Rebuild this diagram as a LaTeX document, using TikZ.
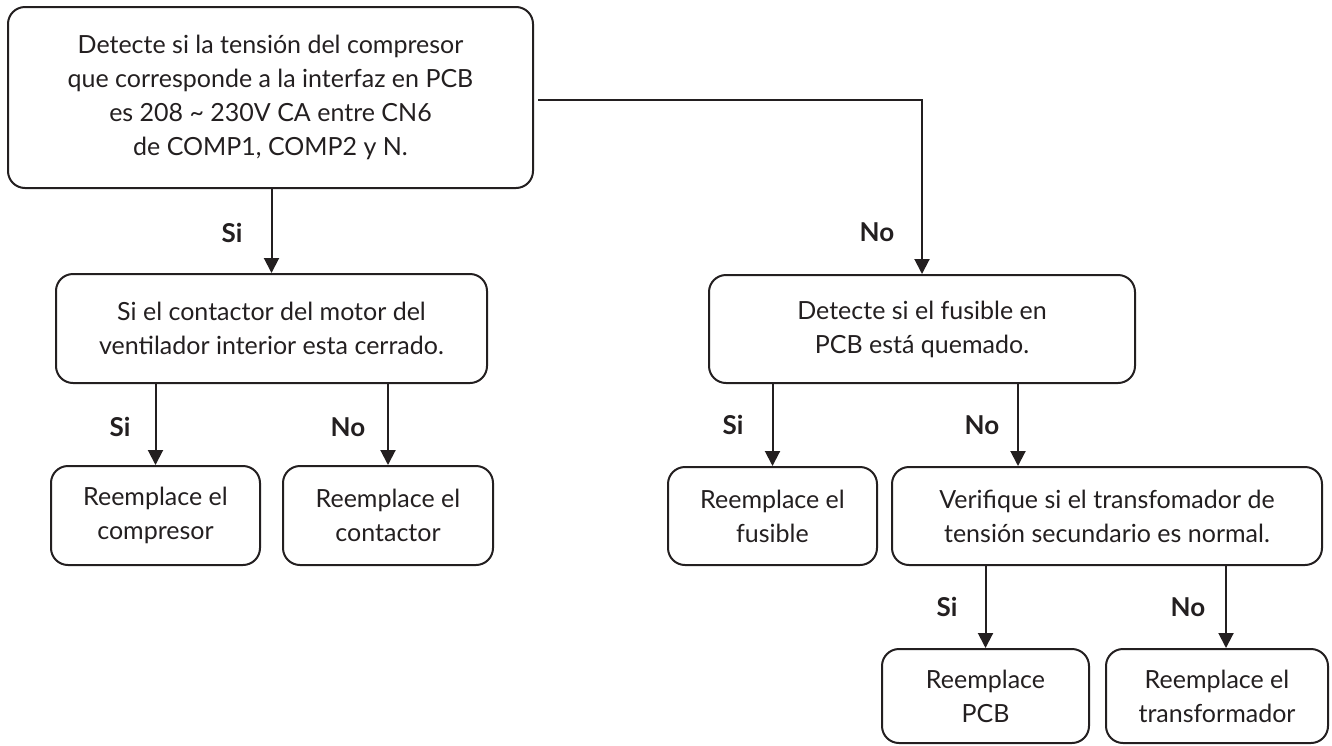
\documentclass[tikz,border=0pt]{standalone}
\usepackage{fontspec}
\setmainfont{Lato}
\usetikzlibrary{arrows.meta}
\definecolor{ink}{HTML}{231F20}
\tikzset{
  box/.style={draw=ink, line width=2pt, rounded corners=17pt, align=center, inner sep=0pt, text=ink, font=\fontsize{25}{34}\selectfont},
  arr/.style={draw=ink, line width=2pt, -{Triangle[width=15pt,length=15pt]}},
  lbl/.style={text=ink, font=\fontsize{26}{30}\selectfont\bfseries}
}
\begin{document}
\begin{tikzpicture}[x=1pt,y=-1pt]
\useasboundingbox (0,0) rectangle (1332,745);
\node[box, minimum width=525pt, minimum height=181pt] (top) at (270.5,97.5)
  {Detecte si la tensión del compresor\\que corresponde a la interfaz en PCB\\es 208 \char`~\ 230V CA entre CN6\\de COMP1, COMP2 y N.};
\node[box, minimum width=431pt, minimum height=109pt] (cont) at (271.5,328.5)
  {Si el contactor del motor del\\ventilador interior esta cerrado.};
\node[box, minimum width=209pt, minimum height=99pt] (comp) at (155.5,515.5)
  {Reemplace el\\compresor};
\node[box, minimum width=210pt, minimum height=99pt] (ctor) at (388,515.5)
  {Reemplace el\\contactor};
\node[box, minimum width=426pt, minimum height=108pt] (fus) at (922,329)
  {Detecte si el fusible en\\PCB está quemado.};
\node[box, minimum width=209pt, minimum height=98pt] (rfus) at (772.5,516)
  {Reemplace el\\fusible};
\node[box, minimum width=430pt, minimum height=98pt] (ver) at (1107,516)
  {Verifique si el transfomador de\\tensión secundario es normal.};
\node[box, minimum width=207pt, minimum height=94pt] (pcb) at (985.5,696)
  {Reemplace\\PCB};
\node[box, minimum width=222pt, minimum height=94pt] (trf) at (1217,696)
  {Reemplace el\\transformador};

\path ([xshift=-89pt]ver.north) coordinate (verin);
\path ([xshift=9pt]trf.north) coordinate (trfin);

\draw[arr] (cont.north |- top.south) -- (cont.north);
\draw[arr] ([xshift=4pt,yshift=-2.5pt]top.east) -| (fus.north);
\draw[arr] (comp.north |- cont.south) -- (comp.north);
\draw[arr] (ctor.north |- cont.south) -- (ctor.north);
\draw[arr] (rfus.north |- fus.south) -- (rfus.north);
\draw[arr] (verin |- fus.south) -- (verin);
\draw[arr] (pcb.north |- ver.south) -- (pcb.north);
\draw[arr] (trfin |- ver.south) -- (trfin);

\node[lbl] (l1) at (232,233) {Si};
\node[lbl] (l2) at (877,232) {No};
\node[lbl] (l3) at (120,427) {Si};
\node[lbl] (l4) at (348,427) {No};
\node[lbl] (l5) at (733,425) {Si};
\node[lbl] (l6) at (982,425) {No};
\node[lbl] (l7) at (947,607) {Si};
\node[lbl] (l8) at (1188,607) {No};
\end{tikzpicture}
\end{document}
